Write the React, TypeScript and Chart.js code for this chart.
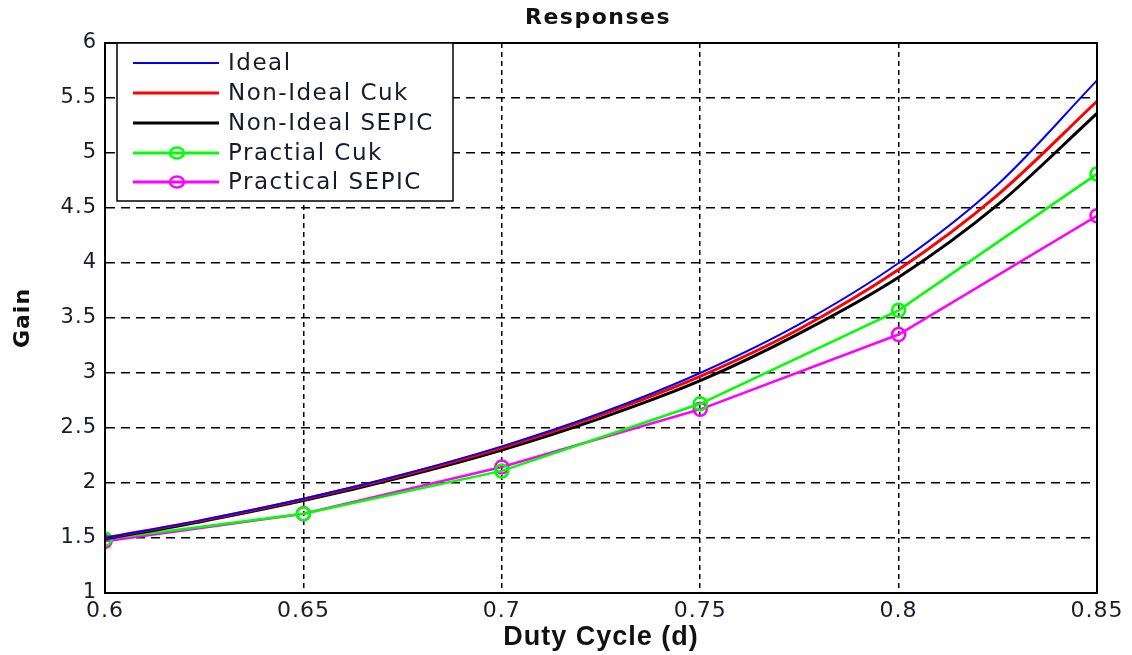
import React, { useEffect, useRef } from "react";
import { Chart, registerables } from "chart.js";

Chart.register(...registerables);

const dutyFine = [0.6, 0.625, 0.65, 0.675, 0.7, 0.725, 0.75, 0.775, 0.8, 0.825, 0.85];
const idealGain = [1.5, 1.667, 1.857, 2.077, 2.333, 2.636, 3.0, 3.444, 4.0, 4.714, 5.66];
const nonIdealCuk = [1.5, 1.665, 1.853, 2.07, 2.32, 2.62, 2.97, 3.4, 3.94, 4.62, 5.47];
const nonIdealSepic = [1.49, 1.655, 1.84, 2.055, 2.3, 2.59, 2.93, 3.36, 3.87, 4.53, 5.36];

const dutyCoarse = [0.6, 0.65, 0.7, 0.75, 0.8, 0.85];
const practicalCuk = [1.49, 1.72, 2.11, 2.72, 3.57, 4.81];
const practicalSepic = [1.47, 1.72, 2.145, 2.67, 3.35, 4.43];

const seriesNames = ["Ideal", "Non-Ideal Cuk", "Non-Ideal SEPIC", "Practial Cuk", "Practical SEPIC"];
const seriesColors = ["#0000ff", "#ff0000", "#000000", "#00ff00", "#ff00ff"];

const pts = (xs: number[], ys: number[]) => xs.map((x, i) => ({ x, y: ys[i] }));

const framePlugin = {
  id: "frameAndLegend",
  beforeDraw(chart: any) {
    (chart.ctx as any).letterSpacing = "1px";
  },
  afterDatasetsDraw(chart: any) {
    const ctx = chart.ctx;
    const a = chart.chartArea;
    ctx.save();
    // frame
    ctx.strokeStyle = "#000";
    ctx.lineWidth = 2;
    ctx.setLineDash([]);
    ctx.strokeRect(a.left, a.top, a.right - a.left, a.bottom - a.top);

    // legend
    const lx = 117, ly = 43, lw = 336, lh = 158;
    ctx.fillStyle = "#fff";
    ctx.fillRect(lx, ly, lw, lh);
    ctx.strokeStyle = "#000";
    ctx.lineWidth = 1.5;
    ctx.strokeRect(lx, ly, lw, lh);
    const rows = [63, 93, 123, 153, 182];
    ctx.font = "23px 'DejaVu Sans'";
    (ctx as any).letterSpacing = "1.5px";
    ctx.textBaseline = "middle";
    ctx.textAlign = "left";
    seriesNames.forEach((name, i) => {
      const y = rows[i];
      ctx.strokeStyle = seriesColors[i];
      ctx.lineWidth = i === 0 ? 2 : 3;
      ctx.beginPath();
      ctx.moveTo(133, y);
      ctx.lineTo(219, y);
      ctx.stroke();
      if (i >= 3) {
        ctx.lineWidth = 2.5;
        ctx.beginPath();
        ctx.ellipse(177, y, 7, 5.5, 0, 0, Math.PI * 2);
        ctx.stroke();
      }
      ctx.fillStyle = "#1a1a2e";
      ctx.fillText(name, 228, y + 1);
    });

    // title
    ctx.font = "bold 22px 'DejaVu Sans'";
    (ctx as any).letterSpacing = "1.5px";
    ctx.textAlign = "center";
    ctx.fillStyle = "#111";
    ctx.fillText("Responses", 598, 18);
    ctx.restore();
  },
};

export default function App() {
  const ref = useRef<HTMLCanvasElement>(null);
  useEffect(() => {
    const lineBase = {
      pointRadius: 0,
      cubicInterpolationMode: "monotone" as const,
      fill: false,
    };
    const chart = new Chart(ref.current!, {
      type: "line",
      data: {
        datasets: [
          { ...lineBase, label: seriesNames[0], data: pts(dutyFine, idealGain), borderColor: seriesColors[0], borderWidth: 2 },
          { ...lineBase, label: seriesNames[1], data: pts(dutyFine, nonIdealCuk), borderColor: seriesColors[1], borderWidth: 3 },
          { ...lineBase, label: seriesNames[2], data: pts(dutyFine, nonIdealSepic), borderColor: seriesColors[2], borderWidth: 3 },
          {
            label: seriesNames[3], data: pts(dutyCoarse, practicalCuk), borderColor: seriesColors[3], borderWidth: 2.5,
            pointRadius: 6.5, pointBorderWidth: 2.5, pointBackgroundColor: "rgba(0,0,0,0)", pointBorderColor: seriesColors[3], tension: 0, fill: false,
          },
          {
            label: seriesNames[4], data: pts(dutyCoarse, practicalSepic), borderColor: seriesColors[4], borderWidth: 2.5,
            pointRadius: 6.5, pointBorderWidth: 2.5, pointBackgroundColor: "rgba(0,0,0,0)", pointBorderColor: seriesColors[4], tension: 0, fill: false,
          },
        ],
      },
      options: {
        responsive: false,
        animation: false,
        layout: { padding: { top: 43, right: 35, bottom: 0, left: 0 } },
        plugins: { legend: { display: false }, title: { display: false }, tooltip: { enabled: false } },
        scales: {
          x: {
            type: "linear",
            min: 0.6,
            max: 0.85,
            ticks: {
              stepSize: 0.05,
              color: "#1a1a2e",
              font: { family: "'DejaVu Sans'", size: 22 },
              padding: 5,
              maxRotation: 0,
              callback: (v: any) => String(Math.round(Number(v) * 100) / 100),
            },
            grid: { color: "#000", lineWidth: 1.5, drawTicks: false },
            border: { display: true, color: "#000", width: 2, dash: [5, 4] },
            title: {
              display: true,
              text: "Duty Cycle (d)",
              color: "#111",
              font: { family: "'Liberation Sans', Arial", size: 27, weight: "bold" },
              padding: { top: 1, bottom: 1 },
            },
            afterFit: (s: any) => { s.height = 62; },
          },
          y: {
            type: "linear",
            min: 1,
            max: 6,
            ticks: {
              stepSize: 0.5,
              color: "#1a1a2e",
              font: { family: "'DejaVu Sans'", size: 21 },
              padding: 8,
              callback: (v: any) => String(Math.round(Number(v) * 10) / 10),
            },
            grid: { color: "#000", lineWidth: 1.5, drawTicks: false },
            border: { display: true, color: "#000", width: 2, dash: [9, 6] },
            title: {
              display: true,
              text: "Gain",
              color: "#111",
              font: { family: "'DejaVu Sans'", size: 22, weight: "bold" },
              padding: { top: 10, bottom: 10 },
            },
            afterFit: (s: any) => { s.width = 105; },
          },
        },
      },
      plugins: [framePlugin],
    } as any);
    return () => chart.destroy();
  }, []);
  return (
    <div style={{ position: "fixed", left: 0, top: 0, width: 1132, height: 655, background: "#fff" }}>
      <canvas ref={ref} width={1132} height={655} />
    </div>
  );
}
